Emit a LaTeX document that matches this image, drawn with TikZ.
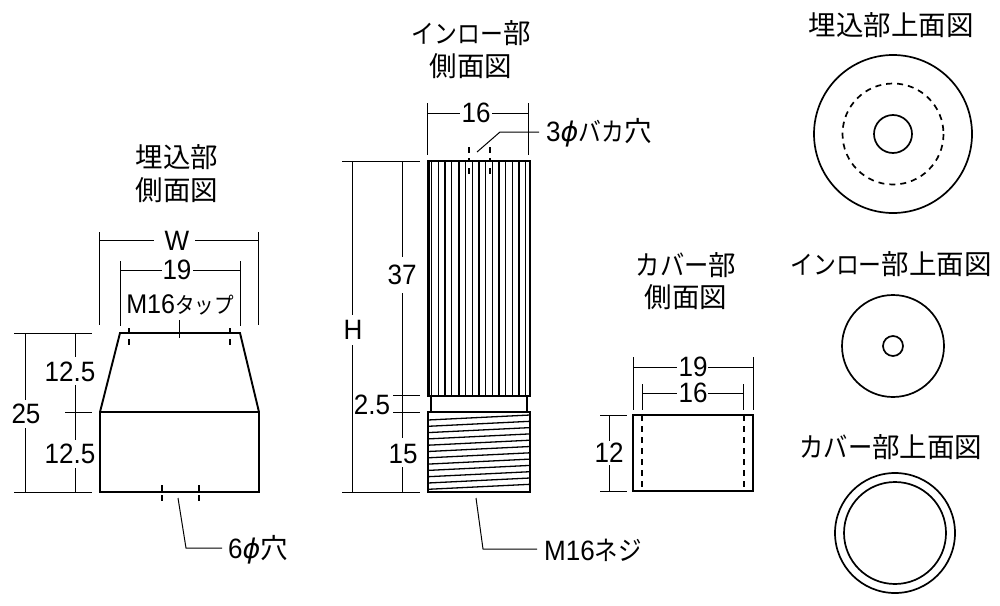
\documentclass[tikz,border=0pt]{standalone}
\usepackage{fontspec}
\setmainfont[FakeStretch=0.93]{Liberation Sans}
\newfontfamily\cjk{Noto Sans CJK JP}
\newfontfamily\cjkn[FakeStretch=0.88]{Noto Sans CJK JP}
\newfontfamily\phifont{DejaVu Sans Oblique}
\newcommand{\myphi}{{\phifont\fontsize{27}{27}\selectfont ϕ}}
\newcommand{\kj}[1]{{\cjk\fontsize{27.5}{28}\selectfont #1}}
\newcommand{\kin}[1]{{\cjkn\fontsize{26}{28}\selectfont #1}}
\newcommand{\kca}[1]{{\cjkn\fontsize{27.6}{28}\selectfont #1}}
\tikzset{
  thin line/.style={line width=1.0pt,black},
  outline/.style={line width=1.9pt,black},
  circline/.style={line width=1.7pt,black},
  rib/.style={line width=1.15pt,black},
  thread/.style={line width=1.3pt,black},
  hole/.style={line width=1.7pt,black,dash pattern=on 6pt off 5pt},
  tick/.style={line width=1.3pt,black},
  lab/.style={inner sep=0pt,font=\fontsize{28}{28}\selectfont},
  title/.style={inner sep=0pt},
}
\begin{document}
\begin{tikzpicture}[x=1pt,y=-1pt]
\useasboundingbox (0,0) rectangle (1000,605);
% --- titles
\node[title] (t1a) at (177,157) {\kj{埋込部}};
\node[title] (t1b) at (177,190) {\kj{側面図}};
\node[title] (t2a) at (471,33) {\kin{インロー}\kj{部}};
\node[title] (t2b) at (471,66) {\kj{側面図}};
\node[title] (t3a) at (686,265) {\kca{カバー}\kj{部}};
\node[title] (t3b) at (686,297) {\kj{側面図}};
\node[title] (t4) at (891,25) {\kj{埋込部上面図}};
\node[title] (t5) at (891,264) {\kin{インロー}\kj{部上面図}};
\node[title] (t6) at (891,447) {\kca{カバー}\kj{部上面図}};
% --- left part
\draw[outline,line join=miter] (120,333) -- (240,333) -- (259,412) -- (259,492) -- (100,492) -- (100,412) -- cycle;
\draw[outline] (100,412) -- (259,412);
\foreach \x in {129,230} {
  \draw[tick] (\x,328) -- (\x,333);
  \draw[tick] (\x,339) -- (\x,345);
}
\foreach \x in {162,199} {
  \draw[tick] (\x,485) -- (\x,492);
  \draw[tick] (\x,495) -- (\x,501);
}
\node[lab] (W) at (177,241) {W};
\coordinate (wl) at (99,240); \coordinate (wr) at (258,240);
\draw[thin line] (99,232) -- (99,325) (258,232) -- (258,325);
\draw[thin line] (wl) -- (154,240) (195,240) -- (wr);
\node[lab] (d19) at (177,270) {19};
\draw[thin line] (120,261) -- (120,326) (240,261) -- (240,326);
\draw[thin line] (120,270) -- (162,270) (193,270) -- (240,270);
\node[lab] (tap) at (180,305) {{\fontsize{27}{27}\selectfont M16}{\cjkn\fontsize{22.2}{22}\selectfont タップ}};
\draw[thin line] (179,320) -- (179,338);
\draw[thin line] (14,333) -- (92,333) (14,492) -- (92,492) (65,412) -- (92,412);
\node[lab] (d25) at (26,414) {25};
\draw[thin line] (25,333) -- (25,400) (25,428) -- (25,492);
\node[lab] (d125a) at (70,372) {12.5};
\node[lab] (d125b) at (70,454) {12.5};
\draw[thin line] (75,333) -- (75,357) (75,385) -- (75,440) (75,468) -- (75,492);
\node[lab,anchor=west] (hole6) at (228,550) {6\myphi\kj{穴}};
\coordinate (h6a) at (178,498); \coordinate (h6b) at (186,548);
\draw[thin line] (h6a) -- (h6b) -- (222,548);
% --- centre part
\draw[outline] (428,396) -- (428,161) -- (530,161) -- (530,396) -- cycle;
\foreach \z in {268,275,295,315,335,357,377,397,417,437,457,477,497,517,537,557}
  \draw[rib] ({340+\z/3},161) -- ({340+\z/3},396);
\draw[rib] (431,396) -- (431,412) (527,396) -- (527,412);
\draw[outline] (428,412) rectangle (530,492);
\foreach \i in {0,...,11}
  \draw[thread] (428,{420+6.3*\i}) -- (530,{415+6.3*\i});
\foreach \x in {469,490} {
  \draw[tick] (\x,147) -- (\x,153);
  \draw[tick] (\x,158) -- (\x,161);
  \draw[tick] (\x,168) -- (\x,174);
}
\node[lab] (d16a) at (476,113) {16};
\draw[thin line] (427,103) -- (427,155) (528,103) -- (528,155);
\draw[thin line] (427,113) -- (460,113) (492,113) -- (528,113);
\node[lab,anchor=west] (hole3) at (546,133) {3\myphi\kin{バカ}\kj{穴}};
\coordinate (h3a) at (477,152); \coordinate (h3b) at (500,132);
\draw[thin line] (h3a) -- (h3b) -- (539,132);
\node[lab] (H) at (353,330) {H};
\draw[thin line] (342,161) -- (420,161) (342,492) -- (420,492);
\draw[thin line] (352,161) -- (352,315) (352,345) -- (352,492);
\node[lab] (d37) at (402,275) {37};
\draw[thin line] (402,161) -- (402,257) (402,293) -- (402,438) (402,467) -- (402,492);
\draw[thin line] (393,395) -- (420,395) (393,412) -- (420,412);
\node[lab] (d25b) at (372,405) {2.5};
\node[lab] (d15) at (403,454) {15};
\node[lab,anchor=west] (m16) at (544,550) {M16{\cjkn\fontsize{26.7}{24}\selectfont ネジ}};
\coordinate (m1) at (476,498); \coordinate (m2) at (483,549);
\draw[thin line] (m1) -- (m2) -- (537,549);
% --- cover part
\draw[outline] (633,415) rectangle (753,491);
\draw[hole] (642,415) -- (642,491) (744,415) -- (744,491);
\node[lab] (d19b) at (693,367) {19};
\draw[thin line] (633,357) -- (633,410) (753,357) -- (753,410);
\draw[thin line] (633,367) -- (677,367) (708,367) -- (753,367);
\node[lab] (d16b) at (693,393) {16};
\draw[thin line] (642,384) -- (642,410) (743,384) -- (743,410);
\draw[thin line] (642,393) -- (677,393) (708,393) -- (743,393);
\node[lab] (d12) at (609,453) {12};
\draw[thin line] (600,415) -- (627,415) (600,491) -- (627,491);
\draw[thin line] (609,415) -- (609,441) (609,465) -- (609,491);
% --- plan views
\draw[circline] (893,134) circle (79);
\draw[hole] (893,134) circle (50.5);
\draw[circline] (893,134) circle (19);
\draw[circline] (893,346) circle (51);
\draw[circline] (893,346) circle (10);
\draw[circline] (895,533) circle (60);
\draw[circline] (895,533) circle (51);
\end{tikzpicture}
\end{document}
